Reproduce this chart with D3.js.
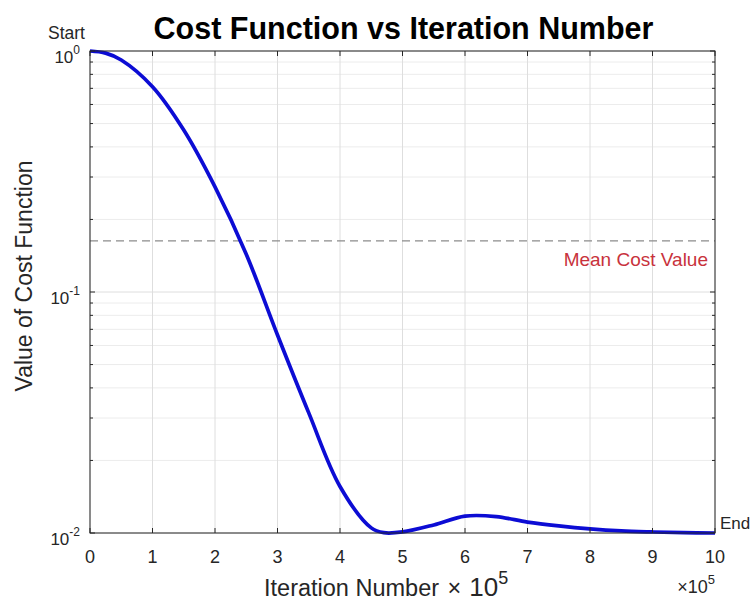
<!DOCTYPE html>
<html>
<head>
<meta charset="utf-8">
<script src="https://cdn.jsdelivr.net/npm/d3@7"></script>
<style>
  body { margin: 0; background: #fff; }
  text { font-family: "Liberation Sans", Arial, sans-serif; }
</style>
</head>
<body>
<svg id="chart"></svg>
<script>
// data (iteration in units of 1e5)
const iterations = [0, 0.25, 0.5, 1, 1.5, 2, 2.5, 3, 3.5, 4, 4.5, 4.7, 5, 5.5, 6, 6.5, 7, 7.5, 8, 8.5, 9, 9.5, 10];
const costValues = [1.0, 0.98, 0.918, 0.711, 0.47, 0.273, 0.1435, 0.0663, 0.0315, 0.0156, 0.0105, 0.01003, 0.0101, 0.0108, 0.01175, 0.0117, 0.0111, 0.0107, 0.0104, 0.0102, 0.0101, 0.01003, 0.0100];
const meanCost = 0.163;
const xTicks = [0, 1, 2, 3, 4, 5, 6, 7, 8, 9, 10];
const yDecades = [-2, -1, 0];

const width = 755, height = 605;
const margin = { top: 51, right: 40, bottom: 72, left: 90 };

const svg = d3.select("#chart")
  .attr("width", width)
  .attr("height", height);

const x = d3.scaleLinear()
  .domain([0, 10])
  .range([margin.left, width - margin.right]);

const y = d3.scaleLog()
  .domain([0.01, 1])
  .range([height - margin.bottom, margin.top]);

const minorTicks = [];
[0.01, 0.1].forEach(base => {
  for (let k = 2; k <= 9; k++) minorTicks.push(base * k);
});

const x0 = x.range()[0], x1 = x.range()[1];
const y0 = y.range()[0], y1 = y.range()[1];

// grid
const grid = svg.append("g");
grid.selectAll(".minor")
  .data(minorTicks)
  .enter().append("line")
  .attr("x1", x0).attr("x2", x1)
  .attr("y1", d => y(d)).attr("y2", d => y(d))
  .attr("stroke", "#ececec").attr("stroke-width", 1);
grid.selectAll(".majory")
  .data(yDecades.map(e => Math.pow(10, e)))
  .enter().append("line")
  .attr("x1", x0).attr("x2", x1)
  .attr("y1", d => y(d)).attr("y2", d => y(d))
  .attr("stroke", "#dedede").attr("stroke-width", 1);
grid.selectAll(".majorx")
  .data(xTicks)
  .enter().append("line")
  .attr("x1", d => x(d)).attr("x2", d => x(d))
  .attr("y1", y0).attr("y2", y1)
  .attr("stroke", "#dedede").attr("stroke-width", 1);

// mean line
svg.append("line")
  .attr("x1", x(0)).attr("x2", x(10))
  .attr("y1", y(meanCost)).attr("y2", y(meanCost))
  .attr("stroke", "#8c8c8c")
  .attr("stroke-width", 1.2)
  .attr("stroke-dasharray", "8,5");

svg.append("text")
  .attr("x", x(10) - 7)
  .attr("y", y(meanCost) + 25)
  .attr("text-anchor", "end")
  .attr("font-size", 19)
  .attr("fill", "#c8323c")
  .text("Mean Cost Value");

// curve
const line = d3.line()
  .x((d, i) => x(iterations[i]))
  .y(d => y(d))
  .curve(d3.curveCatmullRom.alpha(0.5));

svg.append("path")
  .datum(costValues)
  .attr("fill", "none")
  .attr("stroke", "#0c0cd4")
  .attr("stroke-width", 3.7)
  .attr("d", line);

// ticks (inward, on all four sides)
const tickLen = 5, minorLen = 3;
const ticks = svg.append("g").attr("stroke", "#262626").attr("stroke-width", 1);
xTicks.forEach(t => {
  ticks.append("line").attr("x1", x(t)).attr("x2", x(t)).attr("y1", y0).attr("y2", y0 - tickLen);
  ticks.append("line").attr("x1", x(t)).attr("x2", x(t)).attr("y1", y1).attr("y2", y1 + tickLen);
});
yDecades.forEach(e => {
  const yy = y(Math.pow(10, e));
  ticks.append("line").attr("x1", x0).attr("x2", x0 + tickLen).attr("y1", yy).attr("y2", yy);
  ticks.append("line").attr("x1", x1).attr("x2", x1 - tickLen).attr("y1", yy).attr("y2", yy);
});
minorTicks.forEach(v => {
  const yy = y(v);
  ticks.append("line").attr("x1", x0).attr("x2", x0 + minorLen).attr("y1", yy).attr("y2", yy);
  ticks.append("line").attr("x1", x1).attr("x2", x1 - minorLen).attr("y1", yy).attr("y2", yy);
});

// axis box
svg.append("rect")
  .attr("x", x0).attr("y", y1)
  .attr("width", x1 - x0).attr("height", y0 - y1)
  .attr("fill", "none")
  .attr("stroke", "#262626")
  .attr("stroke-width", 1);

// tick labels
svg.append("g").selectAll("text")
  .data(xTicks)
  .enter().append("text")
  .attr("x", d => x(d))
  .attr("y", y0 + 30)
  .attr("text-anchor", "middle")
  .attr("font-size", 18)
  .attr("fill", "#262626")
  .text(d => d);

const yLab = svg.append("g").selectAll("text")
  .data(yDecades)
  .enter().append("text")
  .attr("x", x0 - 10)
  .attr("y", d => y(Math.pow(10, d)) + 12)
  .attr("text-anchor", "end")
  .attr("font-size", 17)
  .attr("fill", "#262626");
yLab.append("tspan").text("10");
yLab.append("tspan")
  .attr("dy", -9)
  .attr("font-size", 12)
  .text(d => d);

// x10^5 multiplier
const mult = svg.append("text")
  .attr("x", x1)
  .attr("y", y0 + 60)
  .attr("text-anchor", "end")
  .attr("font-size", 18)
  .attr("fill", "#262626");
mult.append("tspan").text("\u00d710");
mult.append("tspan").attr("dy", -9).attr("font-size", 13).text("5");

// Start / End
svg.append("text")
  .attr("x", 48)
  .attr("y", 39)
  .attr("font-size", 17.5)
  .attr("fill", "#262626")
  .text("Start");
svg.append("text")
  .attr("x", x1 + 5)
  .attr("y", y0 - 4)
  .attr("font-size", 17)
  .attr("fill", "#262626")
  .text("End");

// title
svg.append("text")
  .attr("x", (x0 + x1) / 2 + 1)
  .attr("y", 39)
  .attr("text-anchor", "middle")
  .attr("font-size", 30.5)
  .attr("font-weight", "bold")
  .attr("fill", "#000")
  .text("Cost Function vs Iteration Number");

// axis labels
const xl = svg.append("text")
  .attr("x", 264)
  .attr("y", 596)
  .attr("font-size", 23.5)
  .attr("fill", "#262626");
xl.append("tspan").text("Iteration Number ");
xl.append("tspan").attr("dx", 2).text("\u00d7");
xl.append("tspan").attr("dx", 8).attr("font-size", 26).text("10");
xl.append("tspan").attr("dy", -12).attr("font-size", 18).text("5");

svg.append("text")
  .attr("transform", `translate(32, 276) rotate(-90)`)
  .attr("text-anchor", "middle")
  .attr("font-size", 23)
  .attr("fill", "#262626")
  .text("Value of Cost Function");
</script>
</body>
</html>
